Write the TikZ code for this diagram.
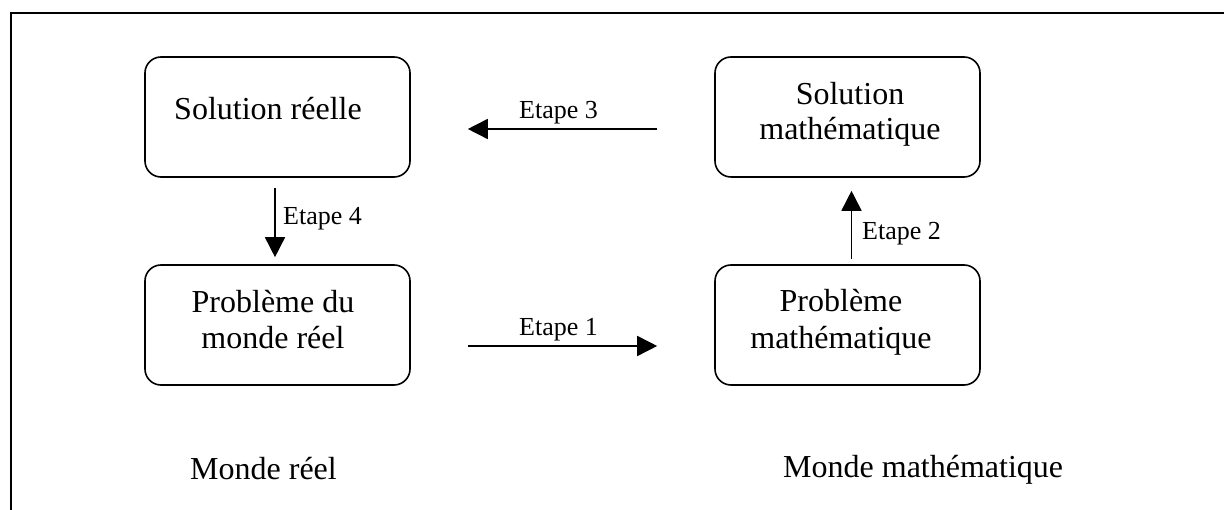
\documentclass[tikz,border=0pt]{standalone}
\usepackage{fontspec}
\setmainfont{Liberation Serif}
\usetikzlibrary{arrows.meta}
\begin{document}
\begin{tikzpicture}[x=1pt,y=-1pt,
  box/.style={draw,line width=1.6pt,rounded corners=16pt,minimum width=265pt,minimum height=120pt,inner sep=0pt,anchor=center},
  boxtext/.style={anchor=base,inner sep=0pt,align=center,font=\fontsize{32}{36}\selectfont},
  steplabel/.style={anchor=base west,inner sep=0pt,font=\fontsize{26}{30}\selectfont},
  arr/.style={line width=1.6pt,-{Triangle[length=20pt,width=20pt]}},
  world/.style={anchor=base west,inner sep=0pt,font=\fontsize{32}{36}\selectfont}]
\useasboundingbox (0,0) rectangle (1224,510);
\fill[white] (0,0) rectangle (1224,510);
% frame
\draw[line width=2.6pt] (11,512) -- (11,13) -- (1226,13);
% boxes
\node[box] (SR) at (277.5,117) {};
\node[box] (SM) at (847.5,117) {};
\node[box] (PR) at (277.5,325) {};
\node[box] (PM) at (847.5,325) {};
% box texts
\node[boxtext] (tSR) at (268,120) {Solution réelle};
\node[boxtext] (tSM1) at (850,105) {Solution};
\node[boxtext] (tSM2) at (850,140) {mathématique};
\node[boxtext] (tPR1) at (273,313) {Problème du};
\node[boxtext] (tPR2) at (273,349) {monde réel};
\node[boxtext] (tPM1) at (841,312) {Problème};
\node[boxtext] (tPM2) at (841,349) {mathématique};
% arrows
\draw[arr,shorten <=57pt,shorten >=57pt] ([yshift=-21pt]PR.east) -- ([yshift=-21pt]PM.west);
\draw[arr,shorten <=5pt,shorten >=13pt] ([xshift=4pt]PM.north) -- ([xshift=4pt]SM.south);
\draw[arr,shorten <=57pt,shorten >=57pt] ([yshift=-12pt]SM.west) -- ([yshift=-12pt]SR.east);
\draw[arr,shorten <=10pt,shorten >=7pt] ([xshift=-2.5pt]SR.south) -- ([xshift=-2.5pt]PR.north);
% step labels
\node[steplabel] (e1) at (519,336) {Etape 1};
\node[steplabel] (e2) at (862,240) {Etape 2};
\node[steplabel] (e3) at (519,119) {Etape 3};
\node[steplabel] (e4) at (283,225) {Etape 4};
% world labels
\node[world] (w1) at (190,479) {Monde réel};
\node[world] (w2) at (783,478) {Monde mathématique};
\end{tikzpicture}
\end{document}
